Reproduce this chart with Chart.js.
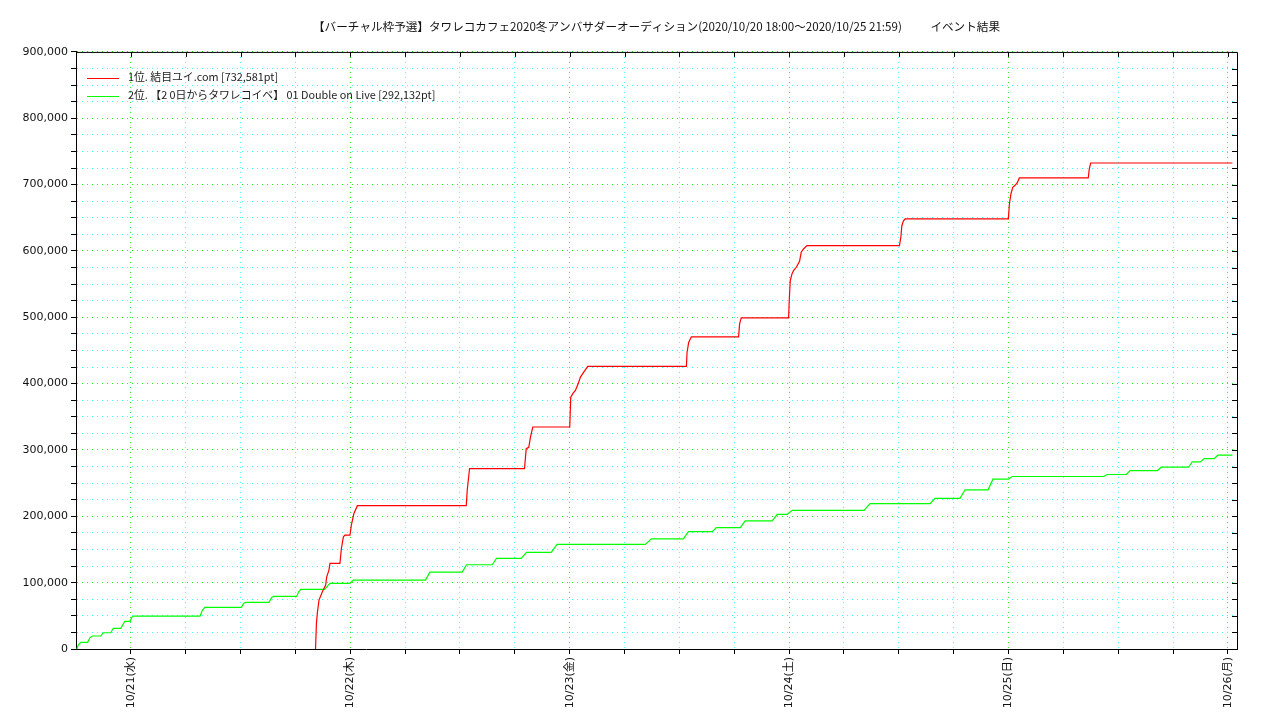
<!DOCTYPE html>
<html>
<head>
<meta charset="utf-8">
<script src="https://cdn.jsdelivr.net/npm/chart.js@4"></script>
<style>
  html, body { margin: 0; padding: 0; background: #fff; }
  #wrap { position: relative; width: 1280px; height: 720px; }
  #legend { position: absolute; left: 87px; top: 67px; font: 10.85px 'Noto Sans CJK JP', sans-serif; color: #222; }
  #legend div { height: 18px; line-height: 18px; white-space: pre; }
  #legend span.mark { display: inline-block; width: 32px; height: 0; vertical-align: middle; margin-right: 9px; }
</style>
</head>
<body>
<div id="wrap">
  <canvas id="eventChart" width="1280" height="720"></canvas>
  <div id="legend"></div>
</div>
<script>
// hours counted from 2020/10/20 18:00
const dayTicks = [6, 30, 54, 78, 102, 126];
const dayLabels = ['10/21(水)', '10/22(木)', '10/23(金)', '10/24(土)', '10/25(日)', '10/26(月)'];

const seriesNames = [
    '1位. 結目ユイ.com [732,581pt]',
    '2位. 【2 0日からタワレコイベ】 01 Double on Live [292,132pt]'
];

const redHours = [26.2, 26.3, 26.4, 26.58, 26.95, 27.31, 27.42, 27.67, 27.78, 28.87, 29.03, 29.25, 29.42, 29.97,
    30.12, 30.4, 30.78, 42.69, 42.8, 43.05, 49.06, 49.25, 49.53, 49.72, 49.97, 54.01, 54.12, 54.38, 54.63,
    54.93, 55.18, 55.54, 55.98, 66.77, 66.84, 67.02, 67.31, 72.48, 72.59, 72.77, 77.95, 78.02, 78.13, 78.32,
    78.49, 78.79, 79.15, 79.33, 79.58, 79.96, 90.08, 90.23, 90.34, 90.51, 90.7, 101.99, 102.1, 102.25, 102.47,
    102.72, 102.97, 103.19, 110.73, 110.84, 110.99, 126.5];
const redValues = [0, 38700, 54200, 73700, 86200, 96300, 108400, 118900, 129000, 129000, 151500, 169000, 171600, 171600,
    186600, 204200, 216000, 216000, 240000, 272000, 272000, 302000, 304000, 320000, 334600, 334600, 379700, 385700, 389800,
    399900, 409800, 417300, 425900, 425900, 447000, 462000, 470600, 470600, 490000, 499200, 499200, 525300, 555300, 565400,
    570400, 575400, 584400, 598000, 603000, 608000, 608000, 621000, 638000, 645500, 648200, 648200, 670000, 685000, 696000,
    699000, 703000, 710000, 710000, 723500, 732581, 732581];

const greenHours = [0.1, 0.24, 0.54, 1.27, 1.55, 1.81, 2.72, 2.97, 3.81, 4.07, 4.91, 5.16, 5.34, 5.92, 6.11, 6.3,
    13.57, 13.84, 14.09, 18.1, 18.32, 18.57, 21.11, 21.41, 21.6, 24.14, 24.36, 24.58, 27.2, 27.6, 27.78, 29.97,
    30.34, 38.24, 38.71, 42.25, 42.72, 45.53, 46.0, 48.7, 49.28, 51.98, 52.63, 62.28, 62.94, 66.44, 66.99, 69.6,
    70.04, 72.67, 73.2, 76.16, 76.7, 77.8, 78.35, 86.2, 86.86, 93.43, 93.97, 96.7, 97.25, 99.77, 100.3, 102.0,
    102.4, 112.4, 112.8, 114.9, 115.3, 118.3, 118.7, 121.7, 122.1, 123.0, 123.4, 124.5, 124.9, 126.5];
const greenValues = [0, 6000, 10100, 10100, 17600, 19600, 19600, 24500, 24500, 31200, 31200, 37600, 41700, 41700, 47700, 49700,
    49700, 58700, 62800, 62800, 68800, 70300, 70300, 77800, 79300, 79300, 86200, 89800, 89800, 96300, 98900, 98900,
    103800, 103800, 115900, 115900, 127000, 127000, 136500, 136500, 145500, 145500, 157600, 157600, 166000, 166000, 177000, 177000,
    183000, 183000, 193000, 193000, 203000, 203000, 209000, 209000, 219000, 219000, 227000, 227000, 240000, 240000, 256000, 256000,
    260000, 260000, 263000, 263000, 269000, 269000, 274000, 274000, 282000, 282000, 287000, 287000, 292132, 292132];

const toPoints = (xs, ys) => xs.map((x, i) => ({ x: x, y: ys[i] }));
const tickFont = { family: "'DejaVu Sans', 'Noto Sans CJK JP', sans-serif", size: 11 };

// top and right border with inward ticks, like the reference
const frame = {
    id: 'frame',
    afterLayout(chart) {
        // centre the title over the plot area rather than the canvas
        if (chart.titleBlock) {
            chart.titleBlock.left = chart.chartArea.left;
            chart.titleBlock.right = chart.chartArea.right;
        }
    },
    afterDraw(chart) {
        const { ctx, chartArea: a, scales } = chart;
        ctx.save();
        ctx.strokeStyle = '#000';
        ctx.lineWidth = 1;
        ctx.beginPath();
        ctx.moveTo(a.left, a.top + 0.5);
        ctx.lineTo(a.right + 0.5, a.top + 0.5);
        ctx.lineTo(a.right + 0.5, a.bottom);
        scales.x.ticks.forEach(t => {
            const px = Math.round(scales.x.getPixelForValue(t.value)) + 0.5;
            ctx.moveTo(px, a.top);
            ctx.lineTo(px, a.top + 5);
        });
        scales.y.ticks.forEach(t => {
            const py = Math.round(scales.y.getPixelForValue(t.value)) + 0.5;
            ctx.moveTo(a.right, py);
            ctx.lineTo(a.right - 5, py);
        });
        ctx.stroke();
        ctx.restore();
    }
};

const chart = new Chart(document.getElementById('eventChart'), {
    type: 'scatter',
    data: {
        datasets: [{
            label: seriesNames[0],
            data: toPoints(redHours, redValues),
            showLine: true,
            borderColor: '#ff0000',
            borderWidth: 1.2,
            pointRadius: 0,
            tension: 0
        }, {
            label: seriesNames[1],
            data: toPoints(greenHours, greenValues),
            showLine: true,
            borderColor: '#00ff00',
            borderWidth: 1.2,
            pointRadius: 0,
            tension: 0
        }]
    },
    options: {
        responsive: false,
        animation: false,
        layout: { padding: { left: 0, right: 43, top: 0, bottom: 0 } },
        plugins: {
            legend: { display: false },
            tooltip: { enabled: false },
            title: {
                display: true,
                text: '【バーチャル枠予選】タワレコカフェ2020冬アンバサダーオーディション(2020/10/20 18:00～2020/10/25 21:59)           イベント結果',
                color: '#111',
                font: { family: "'Noto Sans CJK JP', sans-serif", size: 11.6, weight: 'normal' },
                padding: { top: 20, bottom: 18 }
            }
        },
        scales: {
            x: {
                type: 'linear',
                min: 0,
                max: 127,
                afterBuildTicks: scale => {
                    const list = [];
                    for (let h = 6; h <= 126; h += 6) list.push({ value: h });
                    scale.ticks = list;
                },
                afterFit: scale => { scale.height = 71; },
                ticks: {
                    autoSkip: false,
                    minRotation: 90,
                    maxRotation: 90,
                    padding: 3,
                    color: '#111',
                    font: tickFont,
                    callback: v => {
                        const i = dayTicks.indexOf(v);
                        return i >= 0 ? dayLabels[i] : '';
                    }
                },
                grid: {
                    color: c => (dayTicks.includes(c.tick && c.tick.value) ? '#22ee22' : '#44ffff'),
                    lineWidth: 1,
                    tickColor: '#000',
                    tickLength: 5
                },
                border: { display: true, color: '#000', width: 1, dash: [1, 4] }
            },
            y: {
                min: 0,
                max: 900000,
                afterFit: scale => { scale.width = 76; },
                ticks: {
                    stepSize: 25000,
                    autoSkip: false,
                    padding: 3,
                    color: '#111',
                    font: tickFont,
                    callback: v => (v % 100000 === 0 ? v.toLocaleString('en-US') : '')
                },
                grid: {
                    color: c => (c.tick && c.tick.value % 100000 === 0 ? '#22ee22' : '#44ffff'),
                    lineWidth: 1,
                    tickColor: '#000',
                    tickLength: 5
                },
                border: { display: true, color: '#000', width: 1, dash: [1, 4] }
            }
        }
    },
    plugins: [frame]
});

// legend drawn as html over the plot
const legendBox = document.getElementById('legend');
chart.data.datasets.forEach(ds => {
    const row = document.createElement('div');
    const mark = document.createElement('span');
    mark.className = 'mark';
    mark.style.borderTop = '1px solid ' + ds.borderColor;
    row.appendChild(mark);
    row.appendChild(document.createTextNode(ds.label));
    legendBox.appendChild(row);
});
</script>
</body>
</html>
